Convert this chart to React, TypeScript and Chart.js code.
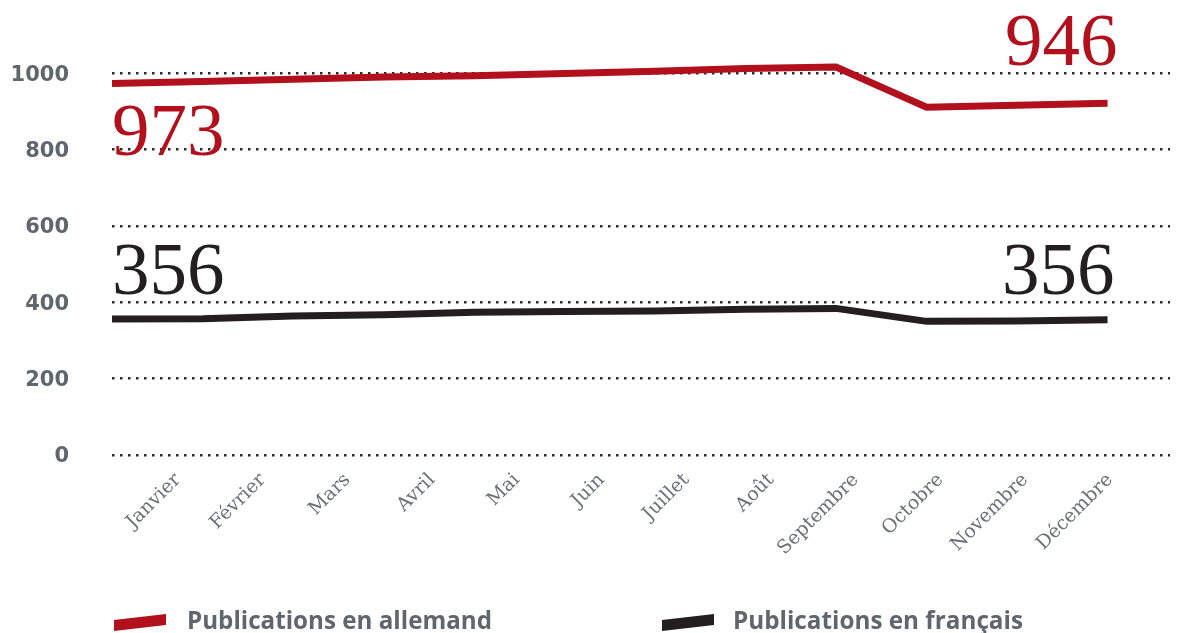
import React, { useEffect, useRef } from 'react';
import { Chart, registerables } from 'chart.js';

Chart.register(...registerables);

const months = ['Janvier', 'Février', 'Mars', 'Avril', 'Mai', 'Juin', 'Juillet', 'Août', 'Septembre', 'Octobre', 'Novembre', 'Décembre'];
const allemand = [973, 978, 984, 990, 993, 999, 1005, 1012, 1016, 911, 916, 921];
const francais = [356, 357, 364, 367, 374, 376, 377, 382, 384, 350, 351, 354];
const yTicks = [0, 200, 400, 600, 800, 1000];
const seriesNames = ['Publications en allemand', 'Publications en français'];
const startLabels = ['973', '356'];
const endLabels = ['946', '356'];
const colors = ['#b3101d', '#231f20'];

const annotPlugin = {
  id: 'annot',
  afterDatasetsDraw(chart: any) {
    const { ctx, scales } = chart;
    const x = scales.x;
    const y = scales.y;
    const series = [allemand, francais];
    const offStart = [52, -45];
    const offEnd = [-58, -46];
    const endDx = [10, 7];
    ctx.save();
    ctx.font = '75px "Liberation Serif"';
    ctx.textBaseline = 'middle';
    series.forEach((d, i) => {
      ctx.fillStyle = colors[i];
      ctx.textAlign = 'left';
      ctx.fillText(startLabels[i], x.getPixelForValue(0), y.getPixelForValue(d[0]) + offStart[i]);
      ctx.textAlign = 'right';
      ctx.fillText(endLabels[i], x.getPixelForValue(d.length - 1) + endDx[i], y.getPixelForValue(d[d.length - 1]) + offEnd[i]);
    });
    ctx.restore();
  },
  afterDraw(chart: any) {
    const { ctx } = chart;
    const items = [
      { sx: 114, tx: 187, tw: 305 },
      { sx: 662, tx: 733, tw: 290 },
    ];
    ctx.save();
    items.forEach((it, i) => {
      ctx.fillStyle = colors[i];
      ctx.beginPath();
      ctx.moveTo(it.sx, 620);
      ctx.lineTo(it.sx + 52, 614);
      ctx.lineTo(it.sx + 52, 625);
      ctx.lineTo(it.sx, 631);
      ctx.closePath();
      ctx.fill();
      ctx.fillStyle = '#5f666d';
      ctx.font = 'bold 25px "Open Sans"';
      ctx.textAlign = 'left';
      ctx.textBaseline = 'alphabetic';
      ctx.fillText(chart.data.datasets[i].label, it.tx, 629, it.tw);
    });
    ctx.restore();
  },
};

export default function App() {
  const ref = useRef<HTMLCanvasElement>(null);
  useEffect(() => {
    if (!ref.current) return;
    const chart = new Chart(ref.current, {
      type: 'line',
      data: {
        datasets: [allemand, francais].map((d, i) => ({
          label: seriesNames[i],
          data: d.map((v, j) => ({ x: j, y: v })),
          borderColor: colors[i],
          backgroundColor: colors[i],
          borderWidth: 7,
          pointRadius: 0,
          tension: 0,
          fill: false,
          borderCapStyle: 'butt',
          borderJoinStyle: 'miter',
        })),
      },
      options: {
        responsive: false,
        animation: false,
        layout: { padding: { top: 35, right: 12, left: 0, bottom: 0 } },
        plugins: { legend: { display: false }, tooltip: { enabled: false } },
        scales: {
          x: {
            type: 'linear',
            display: false,
            min: 0,
            max: 11.69,
          },
          x2: {
            type: 'linear',
            position: 'bottom',
            min: -0.779,
            max: 11.708,
            afterBuildTicks: (s: any) => {
              s.ticks = months.map((_, i) => ({ value: i }));
            },
            afterFit: (s: any) => {
              s.height = 178;
              s.paddingLeft = 0;
              s.paddingRight = 0;
            },
            grid: { display: false, drawTicks: false },
            border: { display: false },
            ticks: {
              autoSkip: false,
              minRotation: 45,
              maxRotation: 45,
              padding: 14,
              color: '#6b7177',
              font: { family: 'DejaVu Serif', size: 19 },
              callback: (v: any) => months[v] ?? '',
            },
          },
          y: {
            min: 0,
            max: 1100,
            afterBuildTicks: (s: any) => {
              s.ticks = yTicks.map((v) => ({ value: v }));
            },
            afterFit: (s: any) => {
              s.width = 112;
              s.paddingTop = 0;
              s.paddingBottom = 0;
            },
            grid: { color: '#2b2b2b', lineWidth: 2.5, drawTicks: false },
            border: { display: false, dash: [2.5, 5.5] },
            ticks: {
              padding: 43,
              labelOffset: 2,
              color: '#5f666d',
              font: { family: 'DejaVu Sans', weight: 'bold', size: 21 },
              callback: (v: any) => String(v),
            },
          },
        },
      },
      plugins: [annotPlugin],
    } as any);
    return () => chart.destroy();
  }, []);
  return (
    <div style={{ position: 'absolute', left: 0, top: 0, width: 1182, height: 633 }}>
      <canvas ref={ref} width={1182} height={633} />
    </div>
  );
}
